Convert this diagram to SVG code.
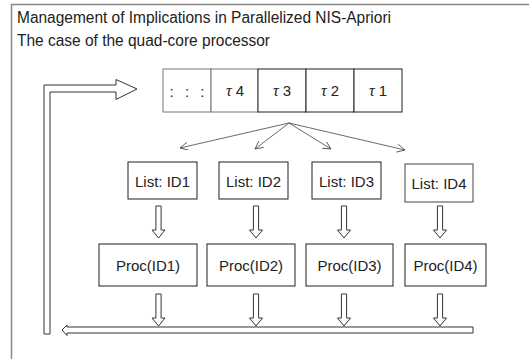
<svg xmlns="http://www.w3.org/2000/svg" width="529" height="359" viewBox="0 0 529 359">
<style>
text{font-family:"Liberation Sans",Arial,sans-serif;font-size:15px;fill:#222}
.t{font-size:16px}
.c{text-anchor:middle}
.box{fill:#fff;stroke:#333;stroke-width:1.1}
.lbox{fill:#fff;stroke:#777;stroke-width:1}
.mbox{fill:#fff;stroke:#555;stroke-width:1.1}
.hol{fill:#fff;stroke:#333;stroke-width:1;stroke-linejoin:miter}
.tau{font-family:"Liberation Serif","DejaVu Serif",serif;font-style:italic;font-size:16px}
.fan{stroke:#444;stroke-width:0.8;fill:none}
</style>
<defs>
<marker id="ah" markerWidth="10" markerHeight="10" refX="8" refY="4" orient="auto" markerUnits="userSpaceOnUse">
<path d="M0,0 L8,4 L0,8" fill="none" stroke="#444" stroke-width="0.8"/>
</marker>
<path id="dn" d="M-2.6,0 H2.6 V24 H6.5 L0,32 L-6.5,24 H-2.6 Z"/>
</defs>
<rect width="529" height="359" fill="#fff"/>
<path d="M11.5,359 V4.5 H529" fill="none" stroke="#888" stroke-width="1.5"/>
<g id="title">
<text class="t" x="17" y="23" textLength="374" lengthAdjust="spacingAndGlyphs">Management of Implications in Parallelized NIS-Apriori</text>
<text class="t" x="17" y="46" textLength="253" lengthAdjust="spacingAndGlyphs">The case of the quad-core processor</text>
</g>
<g id="queue">
<rect class="lbox" x="163" y="69" width="48" height="43"/>
<rect class="lbox" x="211" y="69" width="47" height="43"/>
<rect class="box" x="258" y="69" width="48" height="43"/>
<rect class="box" x="306" y="69" width="48" height="43"/>
<rect class="box" x="354" y="69" width="48" height="43"/>
<text class="c" x="187" y="97" style="word-spacing:7px">: : :</text>
<text class="c" x="235" y="96"><tspan class="tau">τ</tspan> 4</text>
<text class="c" x="282" y="96"><tspan class="tau">τ</tspan> 3</text>
<text class="c" x="330" y="96"><tspan class="tau">τ</tspan> 2</text>
<text class="c" x="378" y="96"><tspan class="tau">τ</tspan> 1</text>
</g>
<g id="connectors">
<line class="fan" x1="289" y1="123" x2="180" y2="148" marker-end="url(#ah)"/>
<line class="fan" x1="289" y1="123" x2="255" y2="149" marker-end="url(#ah)"/>
<line class="fan" x1="289" y1="123" x2="331" y2="149" marker-end="url(#ah)"/>
<line class="fan" x1="289" y1="123" x2="405" y2="150" marker-end="url(#ah)"/>
<use href="#dn" class="hol" x="158.5" y="206"/>
<use href="#dn" class="hol" x="256" y="206"/>
<use href="#dn" class="hol" x="344" y="206"/>
<use href="#dn" class="hol" x="440" y="206"/>
<use href="#dn" class="hol" x="158.5" y="294"/>
<use href="#dn" class="hol" x="256" y="294"/>
<use href="#dn" class="hol" x="344" y="294"/>
<use href="#dn" class="hol" x="440" y="294"/>
<path class="hol" d="M473,327 H67 V325 L62,330 L67,335.5 V333 H473 Z"/>
<path class="hol" d="M44,334 V85 H116 V79.5 L137,89 L116,99.5 V92 H50 V334 Z"/>
</g>
<g id="list1"><rect class="box" x="128" y="162" width="69" height="37"/><text class="c" x="162.5" y="187">List: ID1</text></g>
<g id="list2"><rect class="box" x="219" y="162" width="69" height="37"/><text class="c" x="253.5" y="187">List: ID2</text></g>
<g id="list3"><rect class="box" x="312" y="162" width="69" height="37"/><text class="c" x="346.5" y="187">List: ID3</text></g>
<g id="list4"><rect class="mbox" x="405" y="164" width="68" height="38"/><text class="c" x="439" y="189">List: ID4</text></g>
<g id="proc1"><rect class="box" x="99" y="244" width="98" height="42"/><text class="c" x="148" y="271">Proc(ID1)</text></g>
<g id="proc2"><rect class="box" x="207" y="244" width="88" height="42"/><text class="c" x="251" y="271">Proc(ID2)</text></g>
<g id="proc3"><rect class="box" x="306" y="244" width="87" height="42"/><text class="c" x="349.5" y="271">Proc(ID3)</text></g>
<g id="proc4"><rect class="box" x="405" y="244" width="81" height="42"/><text class="c" x="445.5" y="271">Proc(ID4)</text></g>
</svg>
